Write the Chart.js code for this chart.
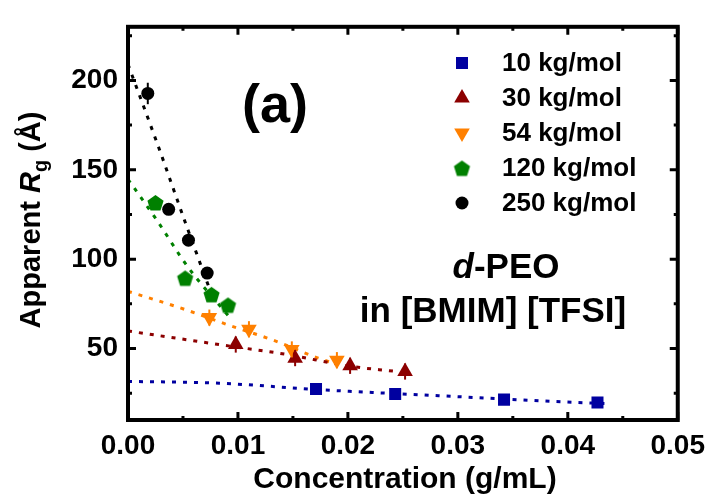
<!DOCTYPE html>
<html>
<head>
<meta charset="utf-8">
<script src="https://cdn.jsdelivr.net/npm/chart.js@4/dist/chart.umd.min.js"></script>
<style>
html,body{margin:0;padding:0;background:#fff;}
canvas{display:block;}
</style>
</head>
<body>
<canvas id="c" width="714" height="498"></canvas>
<script>
// ---- data ----
const seriesNames = ['10 kg/mol','30 kg/mol','54 kg/mol','120 kg/mol','250 kg/mol'];
const xTicks = [0, 0.01, 0.02, 0.03, 0.04, 0.05];
const yTicks = [50, 100, 150, 200];

const conc10  = [0.0171, 0.0243, 0.0342, 0.0427];
const rg10    = [27.3, 24.6, 21.4, 19.8];
const err10   = [0, 0, 0, 0];
const conc30  = [0.0098, 0.0152, 0.0202, 0.0252];
const rg30    = [52.2, 44.6, 40.3, 37.1];
const err30   = [4.5, 4.5, 4.5, 4.5];
const conc54  = [0.0074, 0.0110, 0.0149, 0.0190];
const rg54    = [67.3, 60.8, 49.5, 43.5];
const err54   = [4.5, 4.5, 4.5, 4.5];
const conc120 = [0.0025, 0.0052, 0.0076, 0.0091];
const rg120   = [131.7, 89.5, 80.3, 74.4];
const err120  = [0, 0, 0, 0];
const conc250 = [0.0018, 0.0037, 0.0055, 0.0072];
const rg250   = [192.7, 127.9, 110.6, 92.2];
const err250  = [6, 0, 0, 0];

// fit curves (dotted)
const fitC10  = [0, 0.0083, 0.0173, 0.0299, 0.0408, 0.0435];
const fitR10  = [31.6, 30.6, 27.0, 23.1, 19.8, 19.2];
const fitC30  = [0, 0.0083, 0.0143, 0.0203, 0.0242];
const fitR30  = [59.8, 52.2, 46.8, 40.0, 37.3];
const fitC54  = [0, 0.0053, 0.0092, 0.0131, 0.0173, 0.0189];
const fitR54  = [82.0, 71.6, 63.0, 54.9, 44.6, 41.4];
const fitC120 = [0, 0.0026, 0.0054, 0.0091];
const fitR120 = [144.7, 122.0, 96.0, 68.5];
const fitC250 = [0, 0.0027, 0.0053, 0.0075];
const fitR250 = [209.0, 164.0, 119.0, 82.0];

// ---- styling ----
const colors = ['#0000A0', '#8C0000', '#FF8000', '#008000', '#000000'];
const FONT = '"Liberation Sans", Arial, Helvetica, sans-serif';

function pentagonCanvas(color, r) {
  const s = Math.ceil(r * 2 + 2);
  const cv = document.createElement('canvas');
  cv.width = s; cv.height = s;
  const g = cv.getContext('2d');
  g.fillStyle = color;
  g.beginPath();
  for (let i = 0; i < 5; i++) {
    const a = -Math.PI / 2 + i * 2 * Math.PI / 5;
    const px = s / 2 + r * Math.cos(a), py = s / 2 + 1 + r * Math.sin(a);
    if (i === 0) g.moveTo(px, py); else g.lineTo(px, py);
  }
  g.closePath(); g.fill();
  return cv;
}

const markers = [
  {style: 'rect', radius: 8.5, rotation: 0},
  {style: 'triangle', radius: 9, rotation: 0},
  {style: 'triangle', radius: 9, rotation: 180},
  {style: pentagonCanvas('#008000', 8.5), radius: 8.5, rotation: 0},
  {style: 'circle', radius: 6.5, rotation: 0}
];

const pts = (xs, ys) => xs.map((x, i) => ({x: x, y: ys[i]}));
const concs = [conc10, conc30, conc54, conc120, conc250];
const rgs = [rg10, rg30, rg54, rg120, rg250];
const errs = [err10, err30, err54, err120, err250];
const fitCs = [fitC10, fitC30, fitC54, fitC120, fitC250];
const fitRs = [fitR10, fitR30, fitR54, fitR120, fitR250];

const datasets = [];
for (let i = 0; i < 5; i++) {
  datasets.push({
    label: seriesNames[i],
    data: pts(concs[i], rgs[i]),
    errors: errs[i],
    isMarker: true,
    showLine: false,
    pointStyle: markers[i].style,
    pointRadius: markers[i].radius,
    pointRotation: markers[i].rotation,
    pointBackgroundColor: colors[i],
    pointBorderColor: colors[i],
    pointBorderWidth: 0,
    order: 1
  });
}
for (let i = 0; i < 5; i++) {
  datasets.push({
    label: 'fit ' + seriesNames[i],
    data: pts(fitCs[i], fitRs[i]),
    showLine: true,
    pointRadius: 0,
    borderColor: colors[i],
    borderWidth: 3,
    borderDash: [4, 7],
    cubicInterpolationMode: 'monotone',
    fill: false,
    order: 2
  });
}

const decor = {
  id: 'decor',
  afterDatasetsDraw(chart) {
    const ctx = chart.ctx;
    const xs = chart.scales.x, ys = chart.scales.y;
    const a = chart.chartArea;
    ctx.save();
    // error bars
    chart.data.datasets.forEach((ds, di) => {
      if (!ds.isMarker) return;
      ctx.strokeStyle = ds.pointBackgroundColor;
      ctx.lineWidth = 2;
      ds.data.forEach((p, k) => {
        const e = ds.errors[k];
        if (!e) return;
        const px = xs.getPixelForValue(p.x);
        ctx.beginPath();
        ctx.moveTo(px, ys.getPixelForValue(p.y - e));
        ctx.lineTo(px, ys.getPixelForValue(p.y + e));
        ctx.stroke();
      });
    });
    // frame
    ctx.strokeStyle = '#000';
    ctx.lineWidth = 4;
    ctx.strokeRect(a.left, a.top, a.right - a.left, a.bottom - a.top);
    // inward ticks on all four sides
    ctx.lineWidth = 3;
    const maj = 8, min = 4;
    for (let v = 0; v <= 0.0501; v += 0.005) {
      const px = xs.getPixelForValue(v);
      const isMaj = Math.abs(v / 0.01 - Math.round(v / 0.01)) < 1e-6;
      const L = isMaj ? maj : min;
      ctx.beginPath();
      ctx.moveTo(px, a.bottom); ctx.lineTo(px, a.bottom - L);
      ctx.moveTo(px, a.top); ctx.lineTo(px, a.top + L);
      ctx.stroke();
    }
    for (let v = 25; v <= 225; v += 25) {
      const py = ys.getPixelForValue(v);
      const L = (v % 50 === 0) ? maj : min;
      ctx.beginPath();
      ctx.moveTo(a.left, py); ctx.lineTo(a.left + L, py);
      ctx.moveTo(a.right, py); ctx.lineTo(a.right - L, py);
      ctx.stroke();
    }
    // legend
    const lx = 462, ly0 = 63, dy = 35;
    ctx.fillStyle = '#000';
    ctx.textBaseline = 'middle';
    ctx.textAlign = 'left';
    ctx.font = 'bold 26px ' + FONT;
    chart.data.datasets.forEach((ds, di) => {
      if (!ds.isMarker) return;
      const yy = ly0 + di * dy;
      ctx.fillStyle = ds.pointBackgroundColor;
      Chart.helpers.drawPoint(ctx, {pointStyle: ds.pointStyle, radius: ds.pointRadius, rotation: ds.pointRotation, borderWidth: 0}, lx, yy);
      ctx.fillStyle = '#000';
      ctx.fillText(ds.label, 502, yy + 1);
    });
    // annotations
    ctx.textBaseline = 'alphabetic';
    ctx.textAlign = 'center';
    ctx.font = 'bold 54px ' + FONT;
    ctx.fillText('(a)', 275, 122);
    // d-PEO
    const t1a = 'd', t1b = '-PEO';
    ctx.font = 'italic bold 35px ' + FONT;
    const w1a = ctx.measureText(t1a).width;
    ctx.font = 'bold 35px ' + FONT;
    const w1b = ctx.measureText(t1b).width;
    let sx = 506 - (w1a + w1b) / 2;
    ctx.textAlign = 'left';
    ctx.font = 'italic bold 35px ' + FONT;
    ctx.fillText(t1a, sx, 278);
    ctx.font = 'bold 35px ' + FONT;
    ctx.fillText(t1b, sx + w1a, 278);
    ctx.textAlign = 'center';
    ctx.fillText('in [BMIM] [TFSI]', 493, 322);
    // x title
    ctx.font = 'bold 30px ' + FONT;
    ctx.fillText('Concentration (g/mL)', 405, 488);
    // y title with italic R and subscript g
    ctx.translate(40, 220);
    ctx.rotate(-Math.PI / 2);
    const parts = [
      {t: 'Apparent ', f: 'bold 29px ' + FONT, dy: 0},
      {t: 'R', f: 'italic bold 29px ' + FONT, dy: 0},
      {t: 'g', f: 'bold 20px ' + FONT, dy: 7},
      {t: ' (\u00C5)', f: 'bold 29px ' + FONT, dy: 0}
    ];
    let tw = 0;
    parts.forEach(p => { ctx.font = p.f; p.w = ctx.measureText(p.t).width; tw += p.w; });
    let cx = -tw / 2;
    ctx.textAlign = 'left';
    parts.forEach(p => { ctx.font = p.f; ctx.fillText(p.t, cx, p.dy); cx += p.w; });
    ctx.restore();
  }
};

new Chart(document.getElementById('c'), {
  type: 'scatter',
  data: {datasets: datasets},
  options: {
    responsive: false,
    animation: false,
    layout: {padding: {left: 0, right: 32, top: 14, bottom: 0}},
    plugins: {legend: {display: false}, tooltip: {enabled: false}},
    scales: {
      x: {
        type: 'linear', min: 0, max: 0.05,
        afterBuildTicks: s => { s.ticks = xTicks.map(v => ({value: v})); },
        afterFit: s => { s.height = 78; },
        grid: {display: false, drawTicks: false},
        border: {display: false},
        ticks: {
          padding: 9, color: '#000',
          font: {family: FONT, size: 28, weight: 'bold'},
          callback: v => Number(v).toFixed(2),
          maxRotation: 0, autoSkip: false
        }
      },
      y: {
        type: 'linear', min: 10, max: 230,
        afterBuildTicks: s => { s.ticks = yTicks.map(v => ({value: v})); },
        afterFit: s => { s.width = 128; },
        grid: {display: false, drawTicks: false},
        border: {display: false},
        ticks: {
          padding: 10, color: '#000',
          font: {family: FONT, size: 28, weight: 'bold'},
          autoSkip: false
        }
      }
    }
  },
  plugins: [decor]
});
</script>
</body>
</html>
